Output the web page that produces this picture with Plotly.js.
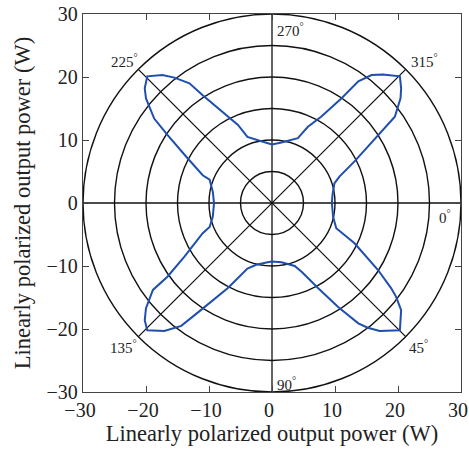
<!DOCTYPE html>
<html><head><meta charset="utf-8">
<script src="https://cdn.plot.ly/plotly-3.0.1.min.js"></script>
<style>html,body{margin:0;padding:0;background:#fff}</style>
</head><body><div id="chart" style="width:469px;height:451px"></div>
<script>
// traced curve (W), counter-clockwise starting at the 0° lobe junction
const powerX = [9.5, 9.6, 9.9, 10.7, 13.1, 15.2, 18.1, 19.5, 20.4, 20.5, 20.3, 17.6, 15.8, 13.7, 11.0, 7.8, 5.7, 4.1, 1.5, 0,
  -1.7, -3.9, -5.4, -7.6, -11.0, -13.1, -15.5, -17.4, -19.8, -20.2, -20.0, -18.7, -16.6, -13.4, -11.0, -9.9, -9.4, -9.2,
  -9.4, -9.9, -11.0, -13.9, -16.6, -18.9, -20.0, -20.2, -19.8, -17.1, -14.4, -11.3, -7.0, -3.9, -2.5, -0.7, 0,
  1.5, 3.6, 4.7, 7.3, 10.5, 13.7, 15.2, 17.1, 20.3, 20.5, 19.7, 18.9, 16.8, 13.1, 10.2, 9.7, 9.5];
const powerY = [0, 1.3, 3.1, 4.2, 6.6, 8.9, 12.1, 13.7, 16.6, 18.2, 20.1, 20.4, 20.3, 19.3, 16.6, 13.7, 12.1, 10.3, 9.6, 9.3,
  9.8, 10.5, 12.4, 14.2, 17.1, 19.0, 19.9, 20.3, 20.1, 18.2, 16.6, 13.4, 10.8, 7.1, 4.4, 3.7, 1.8, 0,
  -2.2, -3.8, -4.8, -8.5, -11.7, -13.8, -16.7, -18.6, -20.2, -20.3, -19.5, -17.0, -13.5, -10.4, -9.8, -9.4, -9.3,
  -9.4, -10.0, -10.9, -13.5, -16.5, -19.1, -19.8, -20.3, -20.2, -17.0, -14.9, -13.5, -10.6, -6.4, -4.0, -2.2, 0];
const ringRadii = [5, 10, 15, 20, 25, 30];
const spokeAngles = [0, 45, 90, 135];
const angleLabels = ['0', '45', '90', '135', '180', '225', '270', '315'];
const axisTicks = [-30, -20, -10, 0, 10, 20, 30];
const axisTitle = 'Linearly polarized output power (W)';

const RMAX = 30;
const labelPos = {
  '0': [26.2, -2.2], '45': [21.4, -22.8], '90': [0.5, -28.8], '135': [-26.1, -22.9],
  '180': [-30.1, -2.2], '225': [-25.8, 22.5], '270': [0.5, 27.5], '315': [21.7, 22.5]
};

const shapes = [];
ringRadii.forEach(r => shapes.push({type: 'circle', xref: 'x', yref: 'y', x0: -r, x1: r, y0: -r, y1: r,
  layer: 'below', line: {color: '#111', width: 1.4}}));
spokeAngles.forEach(a => {
  const c = Math.cos(a * Math.PI / 180) * RMAX, s = Math.sin(a * Math.PI / 180) * RMAX;
  shapes.push({type: 'line', xref: 'x', yref: 'y', x0: -c, y0: s, x1: c, y1: -s,
    layer: 'below', line: {color: '#111', width: 1.3}});
});

const font = 'Liberation Serif, Times New Roman, serif';
const annotations = angleLabels.map(t => ({
  x: labelPos[t][0], y: labelPos[t][1], xref: 'x', yref: 'y', xanchor: 'left', yanchor: 'middle',
  text: t + '<sup>°</sup>', showarrow: false, font: {family: font, size: 15, color: '#222'}
}));

const axisCommon = {
  range: [-30, 30], tickvals: axisTicks, ticks: 'inside', ticklen: 6, tickcolor: '#444', tickwidth: 1,
  showline: true, linecolor: '#444', linewidth: 1.2, mirror: 'ticks', showgrid: false, zeroline: false,
  ticklabeloverflow: 'allow',
  tickfont: {family: font, size: 20, color: '#222'}, fixedrange: true
};

const trace = {x: powerX, y: powerY, type: 'scatter', mode: 'lines',
  line: {color: '#1f4fae', width: 2}, hoverinfo: 'skip'};

const layout = {
  width: 469, height: 451,
  margin: {l: 83, r: 8, t: 14, b: 59},
  paper_bgcolor: '#fff', plot_bgcolor: '#fff', showlegend: false,
  xaxis: Object.assign({}, axisCommon, {ticklabelshift: -3,
    title: {text: axisTitle, font: {family: font, size: 22.5, color: '#222'}, standoff: 3}}),
  yaxis: Object.assign({}, axisCommon, {title: {text: axisTitle, font: {family: font, size: 22.5, color: '#222'}, standoff: 9}}),
  shapes: shapes, annotations: annotations
};

Plotly.newPlot('chart', [trace], layout, {staticPlot: true, displayModeBar: false});
</script></body></html>
